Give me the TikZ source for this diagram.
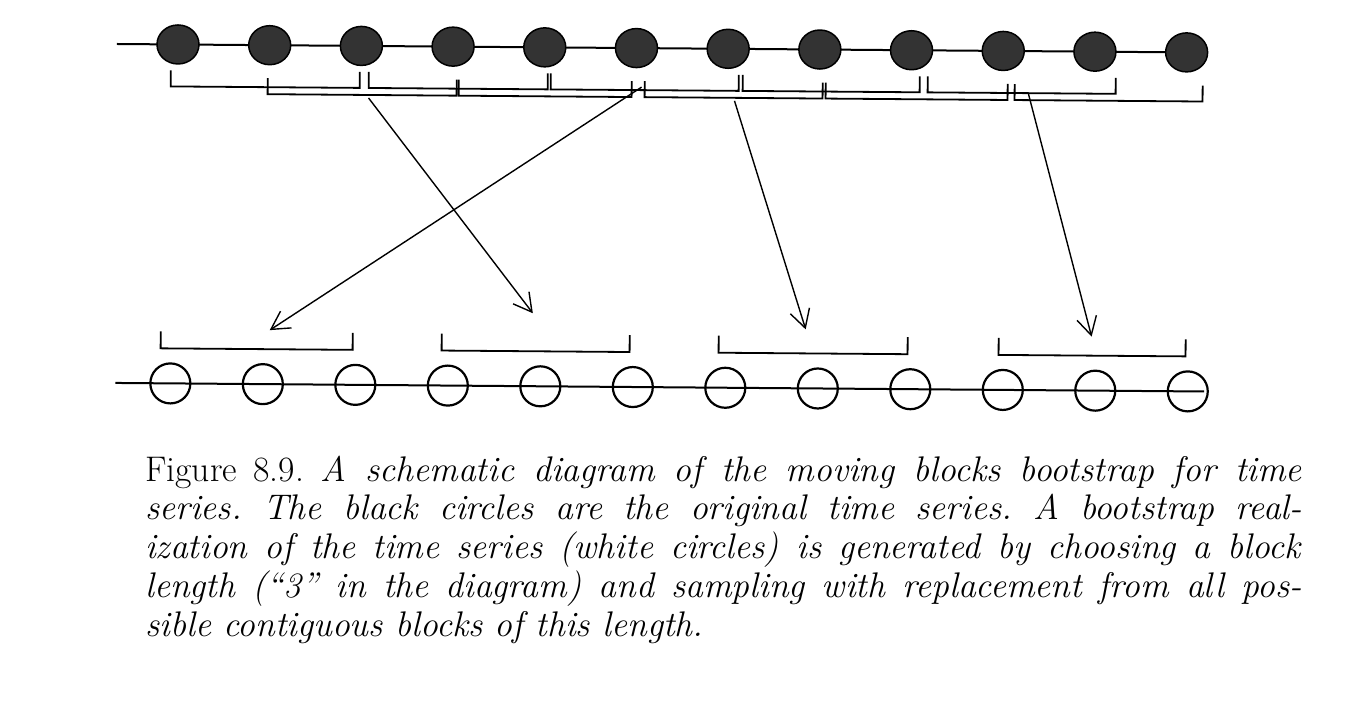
\documentclass[tikz,border=0pt]{standalone}
\usetikzlibrary{shapes.geometric,arrows.meta}
\begin{document}
\begin{tikzpicture}[x=1pt,y=1pt,
  series/.style={line width=2pt},
  blackdot/.style={ellipse,draw=black,line width=1.5pt,fill=black!80,minimum width=42pt,minimum height=39pt,inner sep=0pt},
  whitedot/.style={circle,draw=black,line width=2.2pt,minimum size=40pt,inner sep=0pt},
  bracketline/.style={line width=1.8pt},
  pick/.style={line width=1.4pt,-{Straight Barb[length=18pt,width=20pt,line width=1.4pt]}}]
\useasboundingbox (0,0) rectangle (1348,-706);
\begin{scope}[rotate around={-0.45:(117,-44)}]
  % original series
  \coordinate (tL) at (117,-44);
  \coordinate (tR) at (1205,-44);
  \draw[series] (tL) -- (tR);
  \foreach \i in {1,...,12}{
    \pgfmathsetmacro\xx{178+91.7*(\i-1)}
    \node[blackdot] (t\i) at (\xx,-44) {};
  }
  % moving blocks
  \foreach \l/\r/\tp/\bt in {171/360/70/86, 268/457/77/93, 369/548/70/86, 459/632/77/93, 551/739/70/86, 645/823/77/93, 743/920/70/86, 826/1008/77/93, 928/1116/70/86, 1015/1203/77/93}
    \draw[bracketline] (\l,-\tp) -- (\l,-\bt) -- (\r,-\bt) -- (\r,-\tp);
  % bootstrap series
  \coordinate (bL) at (118,-383);
  \coordinate (bR) at (1207,-383);
  \draw[series] (bL) -- (bR);
  \foreach \i in {1,...,12}{
    \pgfmathsetmacro\xx{173+92.5*(\i-1)}
    \node[whitedot] (b\i) at (\xx,-383) {};
  }
  \foreach \l/\r in {163/355, 444/632, 721/910, 1001/1188}
    \draw[bracketline] (\l,-331) -- (\l,-348) -- (\r,-348) -- (\r,-331);
  % arrows
  \coordinate (s1) at (642,-83);  \coordinate (e1) at (272,-329);
  \coordinate (s2) at (369,-96);  \coordinate (e2) at (535,-310);
  \coordinate (s3) at (735,-96);  \coordinate (e3) at (808,-324);
  \coordinate (s4) at (1029,-87); \coordinate (e4) at (1094,-329);
  \draw[pick] (s1) -- (e1);
  \draw[pick] (s2) -- (e2);
  \draw[pick] (s3) -- (e3);
  \draw[pick] (s4) -- (e4);
\end{scope}
\node[anchor=base west, inner sep=0pt] (cap) at (145,-481) {\parbox[t]{1157pt}{\fontsize{35.6}{38.75}\selectfont\frenchspacing
\makebox[1157pt][s]{Figure 8.9. \textit{A schematic diagram of the moving blocks bootstrap for time}}\\
\makebox[1157pt][s]{\textit{series. The black circles are the original time series. A bootstrap real-}}\\
\makebox[1157pt][s]{\textit{ization of the time series (white circles) is generated by choosing a block}}\\
\makebox[1157pt][s]{\textit{length (“3” in the diagram) and sampling with replacement from all pos-}}\\
\textit{sible contiguous blocks of this length.}}};
\end{tikzpicture}
\end{document}
